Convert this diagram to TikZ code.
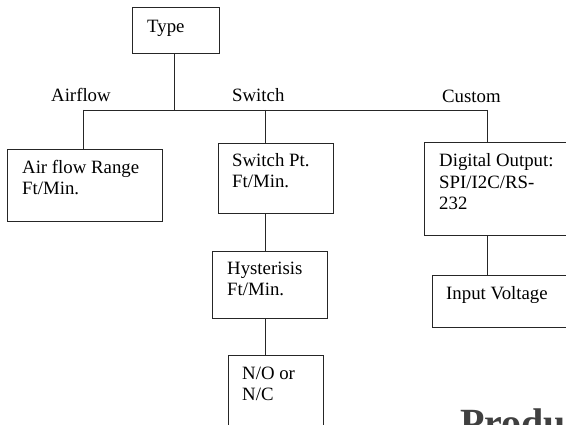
\documentclass[tikz,border=0pt]{standalone}
\usepackage{fontspec}
\setmainfont{Liberation Serif}
\begin{document}
\begin{tikzpicture}[x=1pt,y=-1pt,
  box/.style={draw=black!85,line width=0.9pt,anchor=north west,inner sep=0pt},
  txt/.style={anchor=base west,align=left,inner sep=0pt,font=\fontsize{18.8}{21.7}\selectfont},
  lbl/.style={anchor=base west,inner sep=0pt,font=\fontsize{18.8}{21.7}\selectfont},
  wire/.style={draw=black!85,line width=0.9pt}]
\useasboundingbox (0,0) rectangle (566,425);
\clip (0,0) rectangle (566,425);
\fill[white] (0,0) rectangle (566,425);
% boxes
\node[box,minimum width=87pt,minimum height=46pt] (type) at (132,7) {};
\node[box,minimum width=155pt,minimum height=72pt] (air) at (7,149) {};
\node[box,minimum width=115pt,minimum height=70pt] (sw) at (218,143) {};
\node[box,minimum width=160pt,minimum height=93pt] (cust) at (424,142) {};
\node[box,minimum width=115pt,minimum height=67pt] (hyst) at (212,251) {};
\node[box,minimum width=160pt,minimum height=52pt] (inp) at (432,275) {};
\node[box,minimum width=95pt,minimum height=90pt] (no) at (228,355) {};
% texts (multi-line: base = last line)
\node[lbl] (ttype) at (147,33) {Type};
\node[lbl] (tair) at (51,102) {Airflow};
\node[lbl] (tsw) at (232,102) {Switch};
\node[lbl] (tcus) at (442,103) {Custom};
\node[txt] (tairb) at (22,195) {Air flow Range\\Ft/Min.};
\node[txt] (tswb) at (232,188) {Switch Pt.\\Ft/Min.};
\node[txt] (tcusb) at (439,210) {Digital Output:\\SPI/I2C/RS-\\232};
\node[txt] (thyst) at (227,296) {Hysterisis\\Ft/Min.};
\node[lbl] (tinp) at (446,300) {Input Voltage};
\node[txt] (tno) at (242,401) {N/O or\\N/C};
\node[lbl,font=\bfseries\fontsize{40}{44}\selectfont,text=black!75] (prod) at (460,436) {Produ};
% connectors
\coordinate (hub) at (174,110);
\coordinate (busL) at (83,110);
\coordinate (busS) at (265,110);
\coordinate (busR) at (487,110);
\draw[wire] (type.south -| hub) -- (hub);
\draw[wire] (busL) -- (busR);
\draw[wire] (busL) -- (busL |- air.north);
\draw[wire] (busS) -- (busS |- sw.north);
\draw[wire] (busR) -- (busR |- cust.north);
\draw[wire] (busS |- sw.south) -- (busS |- hyst.north);
\draw[wire] (busS |- hyst.south) -- (busS |- no.north);
\draw[wire] (busR |- cust.south) -- (busR |- inp.north);
\end{tikzpicture}
\end{document}
